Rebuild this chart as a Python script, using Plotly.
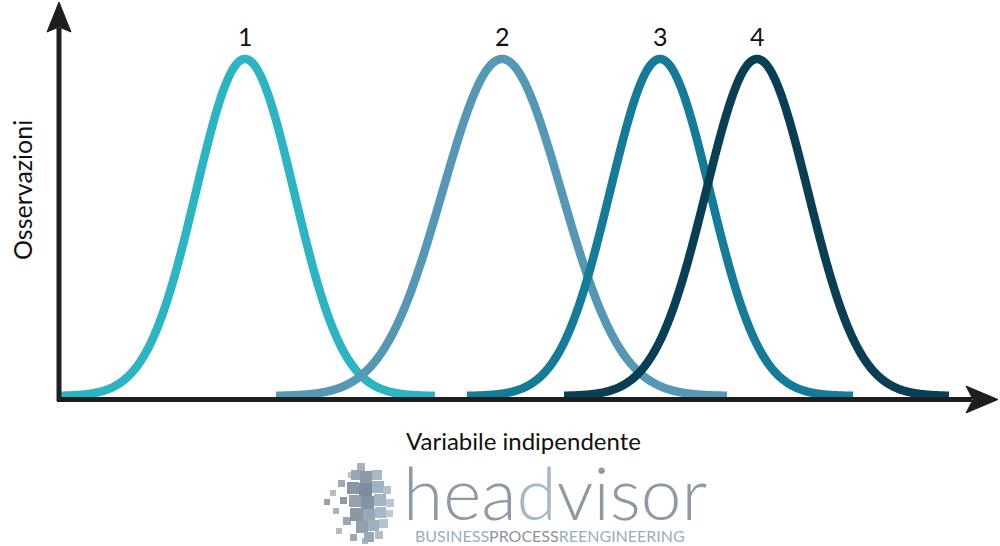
import numpy as np
import plotly.graph_objects as go

# ---- data ----
labels = ["1", "2", "3", "4"]
means = [245, 502, 660, 757]
sigmas = [49, 59.5, 50, 51]
x_start = [60, 276, 467, 564]
x_end = [435, 727, 853, 949]
peak_height = [1.0, 1.0, 1.0, 1.0]
colors = ["#2BB5C2", "#5598B6", "#147B98", "#083F55"]

x_title = "Variabile indipendente"
y_title = "Osservazioni"

W, H = 1000, 546
AX = "#1E1E1E"


def px(x):
    return x / W


def py(y):
    return 1 - y / H


fig = go.Figure()
for lab, m, s, a, b, h, c in zip(labels, means, sigmas, x_start, x_end, peak_height, colors):
    xs = np.linspace(a, b, 600)
    ys = h * np.exp(-0.5 * ((xs - m) / s) ** 2)
    fig.add_trace(go.Scatter(x=xs, y=ys, mode="lines",
                             line=dict(color=c, width=8.5, simplify=False),
                             hoverinfo="skip", showlegend=False))
    fig.add_annotation(x=m, y=h, xref="x", yref="y", text=lab, showarrow=False,
                       xanchor="center", yanchor="middle",
                       yshift=23, font=dict(family="Lato", size=25, color="#111111"))

shapes = []
# y axis
shapes.append(dict(type="line", xref="paper", yref="paper", x0=px(59), x1=px(59),
                   y0=py(401), y1=py(28), line=dict(color=AX, width=5), layer="above"))
shapes.append(dict(type="path", xref="paper", yref="paper",
                   path=f"M {px(47)} {py(32)} L {px(59)} {py(2)} L {px(71)} {py(32)} L {px(59)} {py(27)} Z",
                   fillcolor=AX, line=dict(color=AX, width=1), layer="above"))
# x axis
shapes.append(dict(type="line", xref="paper", yref="paper", x0=px(57), x1=px(972),
                   y0=py(399.5), y1=py(399.5), line=dict(color=AX, width=5), layer="above"))
shapes.append(dict(type="path", xref="paper", yref="paper",
                   path=f"M {px(966)} {py(386)} L {px(998)} {py(399.5)} L {px(966)} {py(413)} L {px(973)} {py(399.5)} Z",
                   fillcolor=AX, line=dict(color=AX, width=1), layer="above"))

# logo icon: pixel squares forming a head profile
squares = [
    (357, 463, 8, "#A9B3BF"), (348, 472, 6, "#B9C2CC"), (338, 480, 7, "#A0AAB6"),
    (330, 490, 6, "#B5BEC8"), (324, 499, 6, "#9AA4B0"), (340, 497, 7, "#8D98A6"),
    (333, 508, 6, "#A8B2BD"), (343, 517, 8, "#9AA6B4"), (336, 528, 6, "#B3BCC6"),
    (350, 534, 7, "#9FA9B5"), (362, 538, 6, "#A8B6C4"),
    (351, 470, 10, "#9DA7B3"), (360, 471, 12, "#8E99A7"), (372, 470, 10, "#A9B8C7"),
    (347, 482, 12, "#8896A5"), (359, 483, 13, "#7F8C9B"), (372, 481, 12, "#9FB3C4"),
    (383, 486, 8, "#AFC2D0"), (349, 495, 12, "#95A1AF"), (361, 496, 13, "#8593A2"),
    (374, 494, 12, "#A3B5C5"), (386, 499, 8, "#B7C8D4"), (350, 508, 13, "#8B97A5"),
    (363, 509, 12, "#9AA7B6"), (375, 507, 11, "#A6B9C8"), (386, 510, 7, "#BCCBD6"),
    (356, 521, 12, "#93A0AE"), (368, 520, 11, "#A0B1C1"), (379, 519, 9, "#B3C4D1"),
    (364, 532, 10, "#9AA7B5"), (375, 531, 8, "#AFBFCD"),
]
for x0, y0, s, c in squares:
    shapes.append(dict(type="rect", xref="paper", yref="paper", x0=px(x0), x1=px(x0 + s),
                       y0=py(y0 + s), y1=py(y0), fillcolor=c, line=dict(width=0)))

fig.update_layout(shapes=shapes)

fig.add_annotation(x=px(523), y=py(440), xref="paper", yref="paper", text=x_title,
                   xanchor="center", yanchor="middle",
                   showarrow=False, font=dict(family="Lato", size=24, color="#111111"))
fig.add_annotation(x=px(22), y=py(190), xref="paper", yref="paper", text=y_title,
                   xanchor="center", yanchor="middle",
                   textangle=-90, showarrow=False,
                   font=dict(family="Lato", size=25, color="#111111"))

# logo text
fig.add_annotation(x=px(555), y=py(492), xref="paper", yref="paper",
                   text="hea<span style='color:#A3B9C9'>d</span>visor",
                   xanchor="center", yanchor="middle",
                   showarrow=False,
                   font=dict(family="Lato", size=73, color="#8E99A8", weight=300))
fig.add_annotation(x=px(550), y=py(535), xref="paper", yref="paper",
                   text="<span style='color:#94AFC2'>BUSINESS</span>PROCESS<span style='color:#94AFC2'>REENGINEERING</span>",
                   xanchor="center", yanchor="middle",
                   showarrow=False,
                   font=dict(family="Lato", size=16, color="#8C939D"))

fig.update_layout(
    width=W, height=H,
    margin=dict(l=0, r=0, t=0, b=0),
    paper_bgcolor="white", plot_bgcolor="white",
    xaxis=dict(range=[0, 1000], visible=False, fixedrange=True),
    yaxis=dict(range=[-150 / 337, 396 / 337], visible=False, fixedrange=True),
    showlegend=False,
)
fig.write_html("out.html", config={"displayModeBar": False},
               post_script="document.body.style.margin='0';document.body.style.overflow='hidden';")
